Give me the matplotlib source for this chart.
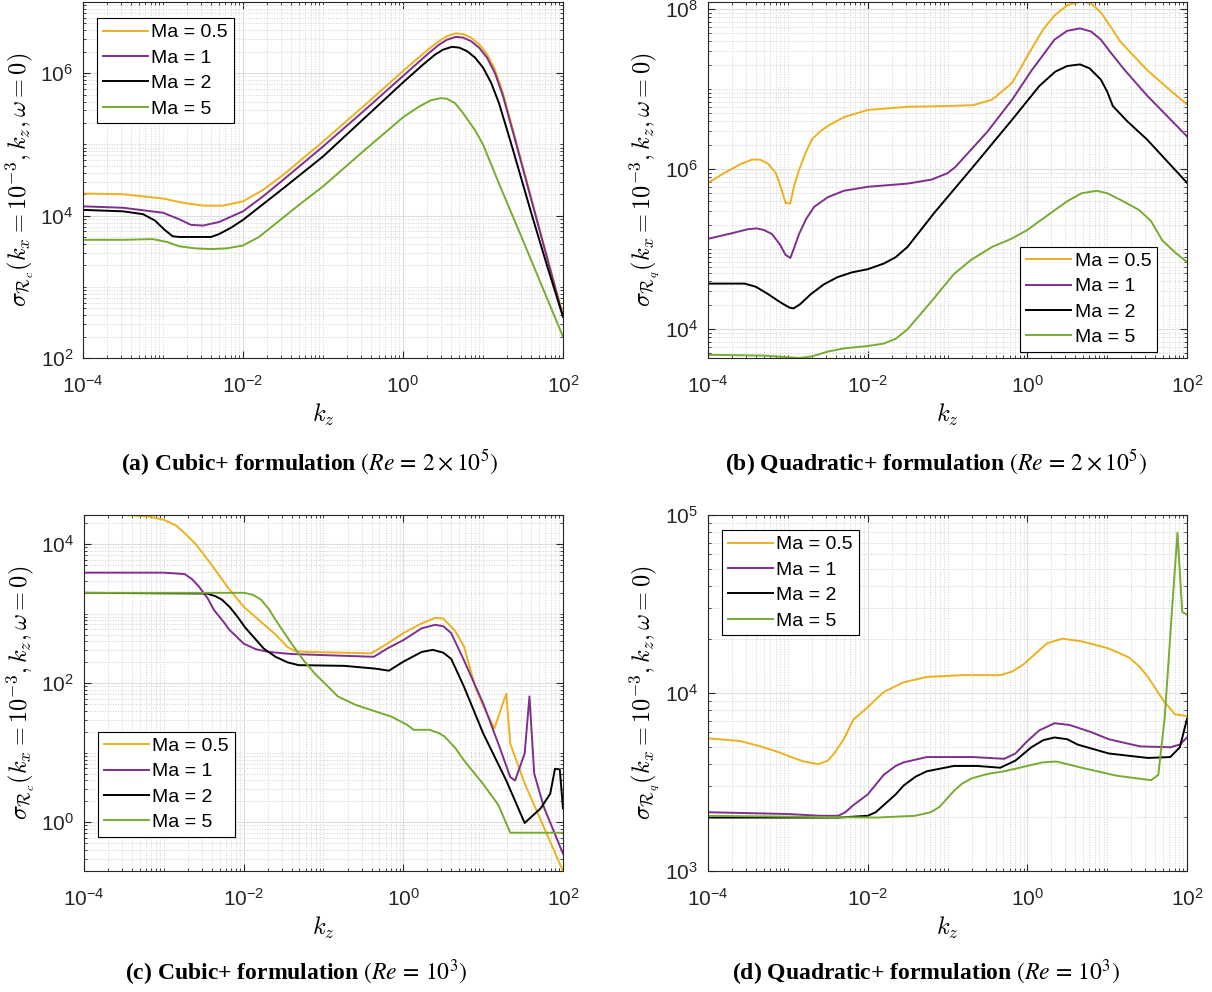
import numpy as np
import matplotlib
matplotlib.use('Agg')
import matplotlib.pyplot as plt

plt.rcParams['font.family'] = ['Liberation Sans', 'DejaVu Sans']
plt.rcParams['mathtext.fontset'] = 'custom'
plt.rcParams['mathtext.rm'] = 'Liberation Sans'
plt.rcParams['mathtext.it'] = 'Liberation Sans:italic'
plt.rcParams['mathtext.bf'] = 'Liberation Sans:bold'

mach = ['0.5', '1', '2', '5']
colors = ['#EDB120', '#7E2F8E', '#000000', '#77AC30']

# sigma vs kz, stored as log10(kz), log10(sigma)
# (a) cubic+, Re = 2e5
a05_lk = [-4.0, -3.5, -3.0, -2.75, -2.5, -2.25, -2.0, -1.75, -1.5, -1.0, -0.5, 0.0, 0.3, 0.45, 0.55, 0.66, 0.75, 0.85, 0.95, 1.05, 1.15, 1.25, 1.4, 1.6, 1.8, 2.0]
a05_ls = [4.31, 4.30, 4.24, 4.18, 4.14, 4.14, 4.20, 4.36, 4.57, 5.04, 5.53, 6.03, 6.32, 6.45, 6.52, 6.56, 6.55, 6.50, 6.41, 6.27, 6.05, 5.72, 5.10, 4.26, 3.43, 2.61]
a1_lk = [-4.0, -3.5, -3.0, -2.8, -2.65, -2.5, -2.3, -2.0, -1.75, -1.5, -1.0, -0.5, 0.0, 0.3, 0.45, 0.55, 0.66, 0.75, 0.85, 0.95, 1.05, 1.15, 1.25, 1.4, 1.6, 1.8, 2.0]
a1_ls = [4.13, 4.11, 4.04, 3.95, 3.87, 3.86, 3.91, 4.06, 4.27, 4.50, 4.97, 5.46, 5.96, 6.26, 6.40, 6.47, 6.51, 6.50, 6.45, 6.36, 6.22, 6.00, 5.68, 5.07, 4.24, 3.41, 2.58]
a2_lk = [-4.0, -3.5, -3.25, -3.1, -2.98, -2.88, -2.8, -2.4, -2.3, -2.15, -2.0, -1.5, -1.0, -0.5, 0.0, 0.25, 0.4, 0.5, 0.61, 0.7, 0.8, 0.9, 1.0, 1.1, 1.2, 1.35, 1.6, 1.8, 2.0]
a2_ls = [4.08, 4.06, 4.02, 3.93, 3.80, 3.71, 3.70, 3.70, 3.74, 3.83, 3.94, 4.38, 4.83, 5.35, 5.87, 6.12, 6.26, 6.33, 6.37, 6.36, 6.31, 6.22, 6.08, 5.87, 5.58, 5.02, 4.05, 3.30, 2.58]
a5_lk = [-4.0, -3.5, -3.13, -2.95, -2.8, -2.6, -2.4, -2.2, -2.0, -1.8, -1.6, -1.3, -1.0, -0.5, 0.0, 0.2, 0.35, 0.47, 0.55, 0.65, 0.75, 0.9, 1.0, 1.2, 1.5, 2.0]
a5_ls = [3.66, 3.66, 3.67, 3.63, 3.57, 3.54, 3.53, 3.54, 3.58, 3.70, 3.88, 4.15, 4.41, 4.90, 5.38, 5.53, 5.62, 5.65, 5.64, 5.58, 5.44, 5.20, 5.00, 4.45, 3.65, 2.30]

# (b) quadratic+, Re = 2e5
b05_lk = [-4.0, -3.8, -3.6, -3.45, -3.35, -3.25, -3.15, -3.08, -3.03, -2.97, -2.92, -2.86, -2.78, -2.7, -2.6, -2.5, -2.3, -2.0, -1.5, -1.0, -0.68, -0.44, -0.19, 0.05, 0.2, 0.34, 0.5, 0.68, 0.8, 0.92, 1.05, 1.16, 1.3, 1.5, 1.75, 2.0]
b05_ls = [5.83, 5.95, 6.06, 6.12, 6.12, 6.07, 5.95, 5.75, 5.58, 5.57, 5.80, 5.99, 6.20, 6.37, 6.47, 6.54, 6.65, 6.74, 6.78, 6.79, 6.80, 6.87, 7.08, 7.50, 7.75, 7.92, 8.05, 8.10, 8.07, 7.96, 7.77, 7.60, 7.45, 7.24, 7.02, 6.81]
b1_lk = [-4.0, -3.7, -3.5, -3.39, -3.3, -3.2, -3.1, -3.03, -2.97, -2.92, -2.86, -2.77, -2.67, -2.5, -2.3, -2.0, -1.5, -1.2, -1.0, -0.9, -0.7, -0.5, -0.19, 0.05, 0.34, 0.5, 0.66, 0.8, 0.92, 1.05, 1.21, 1.5, 2.0]
b1_ls = [5.13, 5.20, 5.25, 5.26, 5.24, 5.19, 5.06, 4.93, 4.89, 5.02, 5.19, 5.38, 5.53, 5.65, 5.73, 5.78, 5.82, 5.87, 5.95, 6.03, 6.25, 6.47, 6.87, 7.23, 7.62, 7.73, 7.76, 7.72, 7.62, 7.45, 7.25, 6.92, 6.41]
b2_lk = [-4.0, -3.54, -3.4, -3.25, -3.1, -2.98, -2.93, -2.85, -2.71, -2.55, -2.38, -2.2, -2.0, -1.8, -1.65, -1.5, -1.17, -0.68, -0.19, 0.15, 0.35, 0.5, 0.66, 0.78, 0.92, 1.0, 1.07, 1.25, 1.5, 2.0]
b2_ls = [4.57, 4.57, 4.53, 4.44, 4.34, 4.27, 4.26, 4.31, 4.44, 4.56, 4.65, 4.71, 4.75, 4.82, 4.90, 5.03, 5.45, 6.03, 6.62, 7.04, 7.22, 7.29, 7.31, 7.26, 7.12, 6.97, 6.79, 6.60, 6.37, 5.83]
b5_lk = [-4.0, -3.3, -3.0, -2.86, -2.7, -2.5, -2.3, -2.0, -1.8, -1.65, -1.5, -1.2, -0.92, -0.7, -0.44, -0.2, 0.0, 0.15, 0.29, 0.5, 0.68, 0.87, 1.0, 1.16, 1.4, 1.55, 1.69, 1.85, 2.0]
b5_ls = [3.68, 3.67, 3.65, 3.64, 3.66, 3.72, 3.76, 3.79, 3.82, 3.88, 4.00, 4.35, 4.69, 4.87, 5.03, 5.13, 5.24, 5.35, 5.45, 5.60, 5.70, 5.73, 5.70, 5.62, 5.49, 5.35, 5.11, 4.96, 4.84]

# (c) cubic+, Re = 1e3
c05_lk = [-4.0, -3.5, -3.2, -3.0, -2.85, -2.74, -2.6, -2.4, -2.2, -2.0, -1.8, -1.6, -1.45, -1.35, -1.2, -0.4, -0.2, 0.0, 0.23, 0.4, 0.5, 0.65, 0.76, 0.9, 1.0, 1.14, 1.29, 1.34, 1.52, 2.0]
c05_ls = [4.42, 4.42, 4.40, 4.35, 4.27, 4.16, 4.00, 3.70, 3.38, 3.10, 2.90, 2.70, 2.52, 2.46, 2.45, 2.43, 2.57, 2.72, 2.86, 2.94, 2.93, 2.75, 2.53, 1.95, 1.68, 1.35, 1.85, 1.13, 0.56, -0.70]
c1_lk = [-4.0, -3.0, -2.74, -2.65, -2.56, -2.45, -2.37, -2.25, -2.18, -2.0, -1.85, -1.69, -1.4, -0.37, -0.2, 0.0, 0.23, 0.4, 0.5, 0.6, 0.76, 1.0, 1.2, 1.34, 1.4, 1.52, 1.58, 1.64, 1.76, 2.0]
c1_ls = [3.59, 3.59, 3.57, 3.50, 3.39, 3.22, 3.05, 2.88, 2.77, 2.57, 2.49, 2.45, 2.42, 2.38, 2.50, 2.62, 2.79, 2.84, 2.82, 2.72, 2.33, 1.71, 1.10, 0.65, 0.60, 0.99, 1.81, 0.70, 0.22, -0.45]
c2_lk = [-4.0, -2.46, -2.35, -2.27, -2.17, -2.08, -1.98, -1.88, -1.75, -1.6, -1.45, -1.31, -0.74, -0.35, -0.18, 0.0, 0.23, 0.37, 0.5, 0.6, 0.76, 1.0, 1.29, 1.52, 1.72, 1.84, 1.9, 1.96, 2.0]
c2_ls = [3.30, 3.29, 3.25, 3.20, 3.09, 2.96, 2.80, 2.67, 2.50, 2.38, 2.30, 2.26, 2.25, 2.21, 2.18, 2.31, 2.45, 2.48, 2.44, 2.35, 1.95, 1.28, 0.60, -0.01, 0.20, 0.41, 0.77, 0.76, 0.20]
c5_lk = [-4.0, -2.3, -1.99, -1.88, -1.78, -1.68, -1.6, -1.4, -1.25, -1.11, -0.95, -0.82, -0.6, -0.39, -0.15, 0.05, 0.13, 0.33, 0.45, 0.52, 0.65, 0.76, 1.0, 1.19, 1.34, 2.0]
c5_ls = [3.30, 3.30, 3.30, 3.27, 3.20, 3.06, 2.91, 2.57, 2.33, 2.14, 1.96, 1.81, 1.69, 1.61, 1.52, 1.40, 1.33, 1.33, 1.28, 1.23, 1.07, 0.89, 0.55, 0.25, -0.15, -0.15]

# (d) quadratic+, Re = 1e3
d05_lk = [-4.0, -3.6, -3.34, -3.1, -2.96, -2.8, -2.62, -2.5, -2.42, -2.3, -2.18, -2.0, -1.8, -1.55, -1.26, -0.82, -0.34, -0.19, -0.05, 0.05, 0.25, 0.44, 0.68, 1.02, 1.27, 1.4, 1.51, 1.7, 1.85, 2.0]
d05_ls = [3.745, 3.73, 3.70, 3.665, 3.64, 3.615, 3.60, 3.62, 3.66, 3.74, 3.85, 3.92, 4.005, 4.06, 4.09, 4.10, 4.10, 4.12, 4.16, 4.20, 4.28, 4.305, 4.29, 4.25, 4.20, 4.15, 4.09, 3.96, 3.88, 3.87]
d1_lk = [-4.0, -3.0, -2.6, -2.37, -2.28, -2.18, -2.0, -1.8, -1.65, -1.55, -1.26, -0.68, -0.29, -0.15, 0.0, 0.15, 0.34, 0.53, 0.8, 1.02, 1.41, 1.79, 1.91, 2.0]
d1_ls = [3.33, 3.32, 3.31, 3.31, 3.33, 3.37, 3.43, 3.54, 3.59, 3.61, 3.64, 3.64, 3.63, 3.66, 3.73, 3.79, 3.83, 3.82, 3.78, 3.74, 3.70, 3.695, 3.71, 3.75]
d2_lk = [-4.0, -2.37, -2.0, -1.9, -1.8, -1.65, -1.55, -1.4, -1.26, -0.92, -0.63, -0.34, -0.15, 0.05, 0.2, 0.34, 0.5, 0.63, 1.02, 1.51, 1.79, 1.91, 2.0]
d2_ls = [3.30, 3.30, 3.31, 3.33, 3.37, 3.43, 3.48, 3.53, 3.56, 3.59, 3.59, 3.58, 3.62, 3.695, 3.735, 3.75, 3.74, 3.71, 3.66, 3.635, 3.64, 3.695, 3.855]
d5_lk = [-4.0, -1.89, -1.41, -1.21, -1.1, -1.02, -0.92, -0.82, -0.7, -0.5, -0.29, 0.0, 0.19, 0.36, 0.5, 0.68, 1.12, 1.55, 1.64, 1.72, 1.82, 1.88, 1.94, 2.0]
d5_ls = [3.31, 3.30, 3.31, 3.33, 3.36, 3.40, 3.45, 3.49, 3.52, 3.545, 3.56, 3.59, 3.61, 3.615, 3.60, 3.58, 3.535, 3.51, 3.54, 3.86, 4.52, 4.90, 4.455, 4.44]

xticks = [1e-4, 1e-2, 1e0, 1e2]
xticklabels = ['$10^{-4}$', '$10^{-2}$', '$10^{0}$', '$10^{2}$']
yticks_a = [1e2, 1e4, 1e6]
yticks_b = [1e4, 1e6, 1e8]
yticks_c = [1e0, 1e2, 1e4]
yticks_d = [1e3, 1e4, 1e5]

captions = [r'(a) Cubic+ formulation $(Re\,=\,2\times10^{5})$',
            r'(b) Quadratic+ formulation $(Re\,=\,2\times10^{5})$',
            r'(c) Cubic+ formulation $(Re\,=\,10^{3})$',
            r'(d) Quadratic+ formulation $(Re\,=\,10^{3})$']

panels = [
    ([(a05_lk, a05_ls), (a1_lk, a1_ls), (a2_lk, a2_ls), (a5_lk, a5_ls)], yticks_a, (1e2, 1e7), 'c',
     [0.0685, 0.6391, 0.3960, 0.3589], ('upper left', (14/480, 1 - 16/356))),
    ([(b05_lk, b05_ls), (b1_lk, b1_ls), (b2_lk, b2_ls), (b5_lk, b5_ls)], yticks_b, (10**3.64, 10**8.09), 'q',
     [0.5842, 0.6391, 0.3952, 0.3589], ('lower right', (1 - 30/479, 6/356))),
    ([(c05_lk, c05_ls), (c1_lk, c1_ls), (c2_lk, c2_ls), (c5_lk, c5_ls)], yticks_c, (10**-0.70, 10**4.42), 'c',
     [0.0693, 0.1220, 0.3952, 0.3589], ('lower left', (14/479, 34/356))),
    ([(d05_lk, d05_ls), (d1_lk, d1_ls), (d2_lk, d2_ls), (d5_lk, d5_ls)], yticks_d, (1e3, 1e5), 'q',
     [0.5842, 0.1220, 0.3952, 0.3589], ('upper left', (14/479, 1 - 15/356))),
]

fig = plt.figure(figsize=(12.12, 9.92), dpi=100)

for curves, yt, ylim, form, rect, (loc, anchor) in panels:
    ax = fig.add_axes(rect)
    for (lk, ls), m, c in zip(curves, mach, colors):
        ax.plot(10**np.array(lk), 10**np.array(ls), color=c, lw=1.4, label='Ma = ' + m)
    ax.set_xscale('log')
    ax.set_yscale('log')
    ax.set_xlim(1e-4, 1e2)
    ax.set_ylim(*ylim)
    ax.set_xticks(xticks, xticklabels)
    ax.set_yticks(yt, ['$10^{%d}$' % round(np.log10(v)) for v in yt])
    ax.xaxis.set_minor_locator(matplotlib.ticker.LogLocator(base=10, subs=np.arange(1, 10), numticks=50))
    ax.yaxis.set_minor_locator(matplotlib.ticker.LogLocator(base=10, subs=np.arange(1, 10), numticks=50))
    ax.xaxis.set_minor_formatter(matplotlib.ticker.NullFormatter())
    ax.yaxis.set_minor_formatter(matplotlib.ticker.NullFormatter())
    ax.grid(True, which='major', color='#dedede', lw=0.8, ls='-')
    ax.grid(True, which='minor', color='#d2d2d2', lw=0.7, ls=':')
    ax.set_axisbelow(True)
    ax.tick_params(which='both', direction='in', top=True, right=True, color='#262626')
    ax.tick_params(which='major', length=5, width=0.8, labelsize=15, labelcolor='#262626')
    ax.tick_params(axis='x', which='major', pad=12)
    ax.tick_params(axis='y', which='major', pad=7)
    ax.tick_params(which='minor', length=2.5, width=0.6)
    for s in ax.spines.values():
        s.set_color('#262626')
        s.set_linewidth(0.8)
    ax.set_xlabel(r'$k_z$', math_fontfamily='cm', fontsize=17.5, labelpad=4)
    ax.set_ylabel(r'$\sigma_{\mathcal{R}_%s}(k_x = 10^{-3}, k_z, \omega = 0)$' % form,
                  math_fontfamily='cm', fontsize=17.5, labelpad=3)
    leg = ax.legend(loc=loc, bbox_to_anchor=anchor, borderaxespad=0, fontsize=14,
                    handlelength=2.3, handletextpad=0.2, labelspacing=0.4,
                    borderpad=0.3, fancybox=False, framealpha=1, edgecolor='black')
    leg.get_frame().set_linewidth(0.8)

cap_pos = [(310, 463), (936, 463), (296, 973), (926, 973)]
for (x, y), txt in zip(cap_pos, captions):
    fig.text(x / 1212, 1 - y / 992, txt, ha='center', va='center', fontsize=17,
             fontfamily='Liberation Serif', fontweight='bold', math_fontfamily='stix')

fig.savefig('out.png', dpi=100)
